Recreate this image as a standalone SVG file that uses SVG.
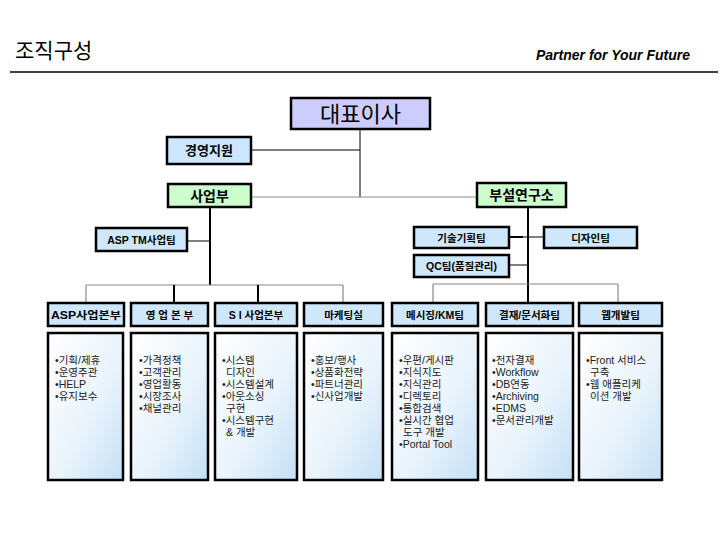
<svg xmlns="http://www.w3.org/2000/svg" width="720" height="540" viewBox="0 0 720 540">
<defs>
<linearGradient id="bodyGrad" x1="0" y1="0" x2="1" y2="1">
<stop offset="0" stop-color="#ffffff"/>
<stop offset="0.55" stop-color="#eaf4fc"/>
<stop offset="1" stop-color="#c4e0f6"/>
</linearGradient>
<style>
.kr{font-family:"Liberation Sans","Noto Sans CJK KR",sans-serif;}
.box{stroke:#000;stroke-width:2.5;}
.team{fill:#cfe7fa;}
.hdr{font-family:"Liberation Sans","Noto Sans CJK KR",sans-serif;font-size:10.5px;font-weight:bold;text-anchor:middle;fill:#000;}
.body{fill:url(#bodyGrad);stroke:#000;stroke-width:2.5;}
.bt{font-family:"Liberation Sans","Noto Sans CJK KR",sans-serif;font-size:10.5px;fill:#222;}
.blk{stroke:#000;stroke-width:2;fill:none;}
.thin{stroke:#000;stroke-width:1;fill:none;}
.gry{stroke:#888;stroke-width:1.2;fill:none;}
</style>
</defs>
<rect width="720" height="540" fill="#fff"/>

<g id="title">
<text x="15" y="58" class="kr" font-size="21" fill="#000">조직구성</text>
<text x="690" y="60" font-family="Liberation Sans,Arial,sans-serif" font-size="14" font-style="italic" font-weight="bold" text-anchor="end" fill="#000">Partner for Your Future</text>
<line x1="10" y1="72" x2="718" y2="72" stroke="#000" stroke-width="1.5"/>
</g>

<g id="connectors">
<line class="thin" x1="360" y1="129" x2="360" y2="197"/>
<line class="thin" x1="251" y1="150" x2="360" y2="150"/>
<line class="gry" x1="251" y1="197" x2="477" y2="197"/>
<line class="blk" x1="210" y1="207" x2="210" y2="285"/>
<line class="thin" x1="187" y1="241" x2="210" y2="241"/>
<line class="gry" x1="86" y1="285" x2="343" y2="285"/>
<line class="gry" x1="86" y1="285" x2="86" y2="303"/>
<line class="gry" x1="343" y1="285" x2="343" y2="303"/>
<line class="blk" x1="174" y1="285" x2="174" y2="303"/>
<line class="blk" x1="258" y1="285" x2="258" y2="303"/>
<line class="blk" x1="528" y1="207" x2="528" y2="303"/>
<line class="blk" x1="509" y1="237" x2="523" y2="237"/>
<line class="thin" x1="523" y1="237" x2="544" y2="237"/>
<line class="thin" x1="509" y1="265" x2="528" y2="265"/>
<line class="gry" x1="433" y1="284" x2="618" y2="284"/>
<line class="gry" x1="433" y1="284" x2="433" y2="303"/>
<line class="gry" x1="618" y1="284" x2="618" y2="303"/>
</g>

<g id="ceo">
<rect class="box" x="291" y="98" width="139" height="31" fill="#ccccff"/>
<text x="360.5" y="122" class="kr" font-size="22" text-anchor="middle" fill="#000">대표이사</text>
</g>
<g id="mgmt">
<rect class="box" x="167" y="137" width="84" height="27" fill="#cce6ff"/>
<text x="209" y="155" class="kr" font-size="13" font-weight="bold" text-anchor="middle">경영지원</text>
</g>
<g id="biz">
<rect class="box" x="168" y="184" width="83" height="23" fill="#ccffcc"/>
<text x="209.5" y="201" class="kr" font-size="14" font-weight="bold" text-anchor="middle">사업부</text>
</g>
<g id="lab">
<rect class="box" x="477" y="183" width="89" height="24" fill="#ccffcc"/>
<text x="521.5" y="200" class="kr" font-size="14" font-weight="bold" text-anchor="middle">부설연구소</text>
</g>
<g id="asptm">
<rect class="box team" x="96" y="228" width="91" height="23"/>
<text x="141.5" y="243.5" class="hdr">ASP TM사업팀</text>
</g>
<g id="techplan">
<rect class="box team" x="414" y="227" width="95" height="21"/>
<text x="461.5" y="241.5" class="hdr">기술기획팀</text>
</g>
<g id="design">
<rect class="box team" x="544" y="227" width="93" height="21"/>
<text x="590.5" y="241.5" class="hdr">디자인팀</text>
</g>
<g id="qc">
<rect class="box team" x="414" y="255" width="95" height="22"/>
<text x="461.5" y="270" class="hdr">QC팀(품질관리)</text>
</g>

<g id="col-asp">
<rect class="box team" x="48" y="303" width="76" height="23"/>
<text x="86" y="318.5" class="hdr" textLength="70" lengthAdjust="spacingAndGlyphs">ASP사업본부</text>
<rect class="body" x="48" y="333" width="75" height="147"/>
<text class="bt" y="364"><tspan x="55">•기획/제휴</tspan><tspan x="55" dy="12">•운영주관</tspan><tspan x="55" dy="12">•HELP</tspan><tspan x="55" dy="12">•유지보수</tspan></text>
</g>
<g id="col-sales">
<rect class="box team" x="131" y="303" width="77" height="23"/>
<text x="169.5" y="318.5" class="hdr">영 업 본 부</text>
<rect class="body" x="131" y="333" width="77" height="147"/>
<text class="bt" y="364"><tspan x="139">•가격정책</tspan><tspan x="139" dy="12">•고객관리</tspan><tspan x="139" dy="12">•영업활동</tspan><tspan x="139" dy="12">•시장조사</tspan><tspan x="139" dy="12">•채널관리</tspan></text>
</g>
<g id="col-si">
<rect class="box team" x="215" y="303" width="82" height="23"/>
<text x="256" y="318.5" class="hdr">S I 사업본부</text>
<rect class="body" x="215" y="333" width="82" height="147"/>
<text class="bt" y="364"><tspan x="222">•시스템</tspan><tspan x="226" dy="12">디자인</tspan><tspan x="222" dy="12">•시스템설계</tspan><tspan x="222" dy="12">•아웃소싱</tspan><tspan x="226" dy="12">구현</tspan><tspan x="222" dy="12">•시스템구현</tspan><tspan x="226" dy="12">&amp; 개발</tspan></text>
</g>
<g id="col-mkt">
<rect class="box team" x="304" y="303" width="79" height="23"/>
<text x="343.5" y="318.5" class="hdr">마케팅실</text>
<rect class="body" x="304" y="333" width="79" height="147"/>
<text class="bt" y="364"><tspan x="311">•홍보/행사</tspan><tspan x="311" dy="12">•상품화전략</tspan><tspan x="311" dy="12">•파트너관리</tspan><tspan x="311" dy="12">•신사업개발</tspan></text>
</g>
<g id="col-msg">
<rect class="box team" x="392" y="303" width="86" height="23"/>
<text x="435" y="318.5" class="hdr">메시징/KM팀</text>
<rect class="body" x="392" y="333" width="86" height="147"/>
<text class="bt" y="364"><tspan x="399">•우편/게시판</tspan><tspan x="399" dy="12">•지식지도</tspan><tspan x="399" dy="12">•지식관리</tspan><tspan x="399" dy="12">•디렉토리</tspan><tspan x="399" dy="12">•통합검색</tspan><tspan x="399" dy="12">•실시간 협업</tspan><tspan x="403" dy="12">도구 개발</tspan><tspan x="399" dy="12">•Portal Tool</tspan></text>
</g>
<g id="col-doc">
<rect class="box team" x="486" y="303" width="87" height="23"/>
<text x="529.5" y="318.5" class="hdr">결재/문서화팀</text>
<rect class="body" x="486" y="333" width="87" height="147"/>
<text class="bt" y="364"><tspan x="492">•전자결재</tspan><tspan x="492" dy="12">•Workflow</tspan><tspan x="492" dy="12">•DB연동</tspan><tspan x="492" dy="12">•Archiving</tspan><tspan x="492" dy="12">•EDMS</tspan><tspan x="492" dy="12">•문서관리개발</tspan></text>
</g>
<g id="col-web">
<rect class="box team" x="579" y="303" width="83" height="23"/>
<text x="620.5" y="318.5" class="hdr">웹개발팀</text>
<rect class="body" x="579" y="333" width="83" height="147"/>
<text class="bt" y="364"><tspan x="586">•Front 서비스</tspan><tspan x="590" dy="12">구축</tspan><tspan x="586" dy="12">•웹 애플리케</tspan><tspan x="590" dy="12">이션 개발</tspan></text>
</g>
</svg>
